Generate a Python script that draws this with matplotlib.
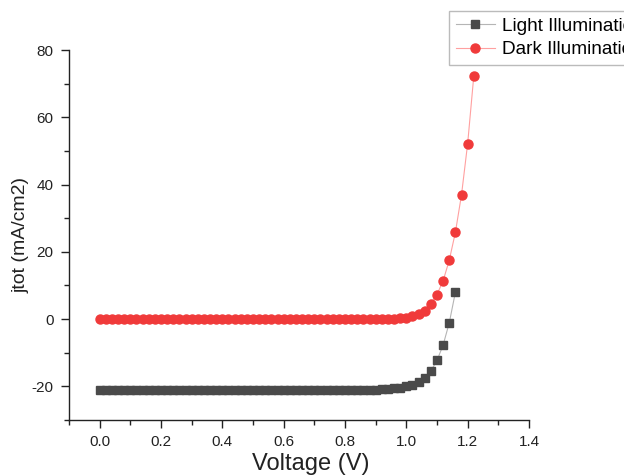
import matplotlib
matplotlib.use("Agg")
import matplotlib.pyplot as plt
from matplotlib.ticker import MultipleLocator, FormatStrFormatter

plt.rcParams['font.family'] = ['Liberation Sans', 'DejaVu Sans']
plt.rcParams['axes.unicode_minus'] = False

voltage_light = [0.00, 0.02, 0.04, 0.06, 0.08, 0.10, 0.12, 0.14, 0.16, 0.18,
                 0.20, 0.22, 0.24, 0.26, 0.28, 0.30, 0.32, 0.34, 0.36, 0.38,
                 0.40, 0.42, 0.44, 0.46, 0.48, 0.50, 0.52, 0.54, 0.56, 0.58,
                 0.60, 0.62, 0.64, 0.66, 0.68, 0.70, 0.72, 0.74, 0.76, 0.78,
                 0.80, 0.82, 0.84, 0.86, 0.88, 0.90, 0.92, 0.94, 0.96, 0.98,
                 1.00, 1.02, 1.04, 1.06, 1.08, 1.10, 1.12, 1.14, 1.16]
jtot_light = [-21.2, -21.2, -21.2, -21.2, -21.2, -21.2, -21.2, -21.2, -21.2, -21.2,
              -21.2, -21.2, -21.2, -21.2, -21.2, -21.2, -21.2, -21.2, -21.2, -21.2,
              -21.2, -21.2, -21.2, -21.2, -21.2, -21.2, -21.2, -21.2, -21.2, -21.2,
              -21.2, -21.2, -21.2, -21.2, -21.2, -21.2, -21.2, -21.2, -21.2, -21.2,
              -21.18, -21.17, -21.15, -21.12, -21.08, -21.02, -20.93, -20.8, -20.6, -20.35,
              -20.0, -19.5, -18.8, -17.5, -15.4, -12.3, -7.7, -1.1, 8.0]

voltage_dark = [0.00, 0.02, 0.04, 0.06, 0.08, 0.10, 0.12, 0.14, 0.16, 0.18,
                0.20, 0.22, 0.24, 0.26, 0.28, 0.30, 0.32, 0.34, 0.36, 0.38,
                0.40, 0.42, 0.44, 0.46, 0.48, 0.50, 0.52, 0.54, 0.56, 0.58,
                0.60, 0.62, 0.64, 0.66, 0.68, 0.70, 0.72, 0.74, 0.76, 0.78,
                0.80, 0.82, 0.84, 0.86, 0.88, 0.90, 0.92, 0.94, 0.96, 0.98,
                1.00, 1.02, 1.04, 1.06, 1.08, 1.10, 1.12, 1.14, 1.16, 1.18,
                1.20, 1.22]
jtot_dark = [0.0, 0.0, 0.0, 0.0, 0.0, 0.0, 0.0, 0.0, 0.0, 0.0,
             0.0, 0.0, 0.0, 0.0, 0.0, 0.0, 0.0, 0.0, 0.0, 0.0,
             0.0, 0.0, 0.0, 0.0, 0.0, 0.0, 0.0, 0.0, 0.0, 0.0,
             0.0, 0.0, 0.0, 0.0, 0.0, 0.0, 0.0, 0.0, 0.0, 0.0,
             0.005, 0.008, 0.012, 0.018, 0.027, 0.04, 0.06, 0.09, 0.14, 0.25,
             0.45, 0.8, 1.4, 2.4, 4.6, 7.3, 11.4, 17.5, 25.8, 37.0,
             52.2, 72.3]

series_labels = ["Light Illumination", "Dark Illumination"]
x_label = "Voltage (V)"
y_label = "jtot (mA/cm2)"

fig = plt.figure(figsize=(6.24, 4.76), dpi=100)
ax = fig.add_axes([69/624, 1-420/476, (529-69)/624, (420-50)/476])

ax.plot(voltage_light, jtot_light, color='#b5b5b5', lw=0.8, marker='s',
        markersize=6, markerfacecolor='#4a4a4a', markeredgecolor='#4a4a4a',
        label=series_labels[0], zorder=3)
ax.plot(voltage_dark, jtot_dark, color='#ffa0a0', lw=0.8, marker='o',
        markersize=6.5, markerfacecolor='#f03a3a', markeredgecolor='#f03a3a',
        label=series_labels[1], zorder=3)

ax.set_xlim(-0.1, 1.4)
ax.set_ylim(-30, 80)
ax.xaxis.set_major_locator(MultipleLocator(0.2))
ax.xaxis.set_minor_locator(MultipleLocator(0.1))
ax.yaxis.set_major_locator(MultipleLocator(20))
ax.yaxis.set_minor_locator(MultipleLocator(10))
ax.xaxis.set_major_formatter(FormatStrFormatter('%.1f'))

for s in ['top', 'right']:
    ax.spines[s].set_visible(False)
for s in ['left', 'bottom']:
    ax.spines[s].set_linewidth(1.0)
    ax.spines[s].set_color('#222222')

ax.tick_params(which='major', direction='out', length=6, width=1.0, labelsize=11,
               colors='#222222', pad=5)
ax.tick_params(which='minor', direction='out', length=3.5, width=1.0, colors='#222222')

ax.set_xlabel(x_label, fontsize=17, color='#222222')
ax.xaxis.set_label_coords((311-69)/460, -(470-420)/370)
ax.xaxis.label.set_va('baseline')
ax.set_ylabel(y_label, fontsize=14, color='#222222')
ax.yaxis.set_label_coords((21-69)/460, 0.5)
ax.yaxis.label.set_va('center')

leg = fig.legend(loc='upper left', bbox_to_anchor=(449/624, 1-11/476),
                 fontsize=13.7, frameon=True, fancybox=False, borderpad=0.35,
                 handlelength=2.05, handletextpad=0.37, labelspacing=0.31,
                 borderaxespad=0)
leg.get_frame().set_edgecolor('#aaaaaa')
leg.get_frame().set_linewidth(1.0)

fig.savefig('out.png', dpi=100)
